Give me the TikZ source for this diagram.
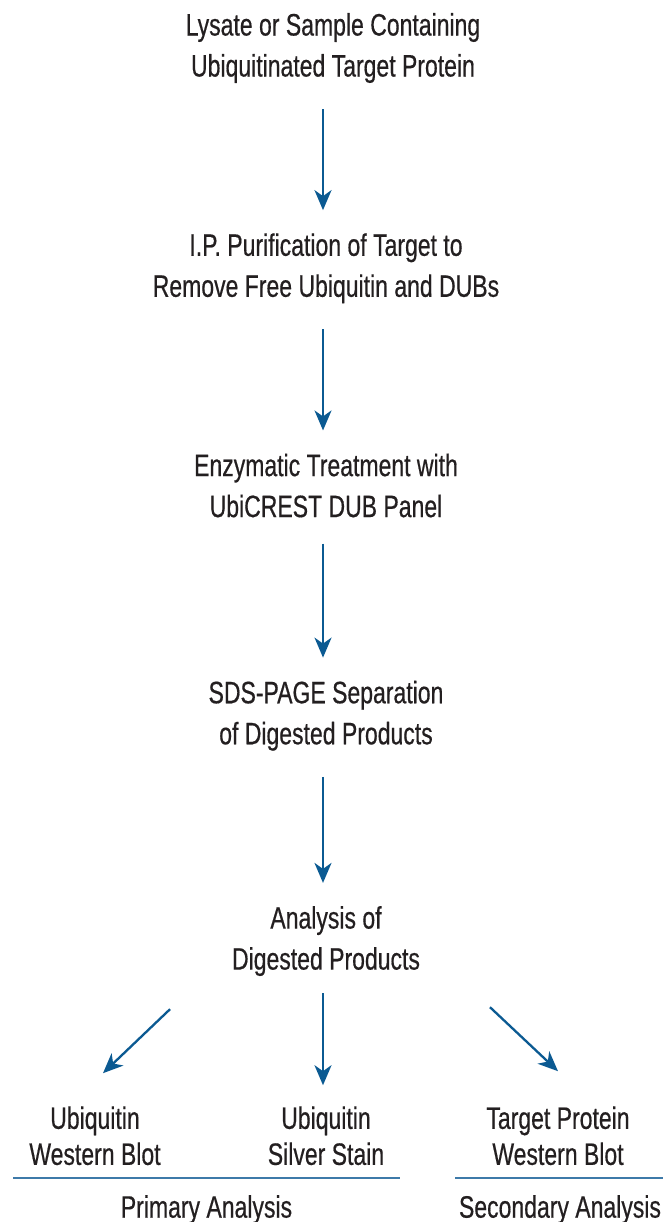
\documentclass[tikz,border=0pt]{standalone}
\usepackage{fontspec}
\setmainfont{Liberation Sans}[FakeStretch=0.742, FakeBold=0.5]
\usetikzlibrary{positioning, arrows.meta, calc}
\definecolor{flowblue}{HTML}{0B5A92}
\definecolor{rulebl}{HTML}{3E7AA9}
\definecolor{txt}{HTML}{231F20}

\begin{document}
\begin{tikzpicture}[x=1pt, y=1pt, >={Stealth[length=20pt, width=17pt, inset=6pt]},
    stepbox/.style={align=center, inner sep=0pt, text=txt, font=\fontsize{31}{41}\selectfont},
    endbox/.style={stepbox, font=\fontsize{31}{36}\selectfont},
    flow/.style={->, draw=flowblue, line width=2.3pt},
    grp/.style={draw=rulebl, line width=1.4pt}]
  \useasboundingbox (0,0) rectangle (663,-1222);

  \node[stepbox] (lys) at (333,-48) {Lysate or Sample Containing\\Ubiquitinated Target Protein};
  \node[stepbox] (ip) [below = 150pt of lys, xshift=-7pt] {I.P. Purification of Target to\\Remove Free Ubiquitin and DUBs};
  \node[stepbox] (enz) [below = 150pt of ip] {Enzymatic Treatment with\\UbiCREST DUB Panel};
  \node[stepbox] (sds) [below = 163pt of enz] {SDS-PAGE Separation\\of Digested Products};
  \node[stepbox] (ana) [below = 155pt of sds] {Analysis of\\Digested Products};

  \node[endbox] (ss) [below = 130pt of ana] {Ubiquitin\\Silver Stain};
  \node[endbox] (wb) [below = 130pt of ana, xshift=-231pt] {Ubiquitin\\Western Blot};
  \node[endbox] (tp) [below = 130pt of ana, xshift=232pt] {Target Protein\\Western Blot};

  % main chain
  \draw[flow] ([xshift=-10pt, yshift=-26pt]lys.south) -- ([xshift=-3pt, yshift=23pt]ip.north);
  \draw[flow] ([xshift=-3pt, yshift=-26pt]ip.south) -- ([xshift=-3pt, yshift=23pt]enz.north);
  \draw[flow] ([xshift=-3pt, yshift=-26pt]enz.south) -- ([xshift=-3pt, yshift=23pt]sds.north);
  \draw[flow] ([xshift=-3pt, yshift=-26pt]sds.south) -- ([xshift=-3pt, yshift=23pt]ana.north);

  % split into the three analyses
  \draw[flow] ([xshift=-3pt, yshift=-17pt]ana.south) -- ([xshift=-3pt, yshift=21pt]ss.north);
  \draw[flow] ([xshift=-156pt, yshift=-33pt]ana.south) -- ([xshift=8pt, yshift=33pt]wb.north);
  \draw[flow] ([xshift=164pt, yshift=-31pt]ana.south) -- ([xshift=0pt, yshift=35pt]tp.north);

  % group rules and captions
  \coordinate (pl) at (13,-1178);
  \coordinate (pr) at (400,-1178);
  \coordinate (sl) at (455,-1178);
  \coordinate (sr) at (663,-1178);
  \draw[grp] (pl) -- (pr);
  \draw[grp] (sl) -- (sr);
  \node[stepbox] (pri) [below = 17pt of $(pl)!0.5!(pr)$] {Primary Analysis};
  \node[stepbox] (sec) [below = 17pt of $(sl)!0.5!(sr)$, xshift=1pt] {Secondary Analysis};
\end{tikzpicture}
\end{document}
